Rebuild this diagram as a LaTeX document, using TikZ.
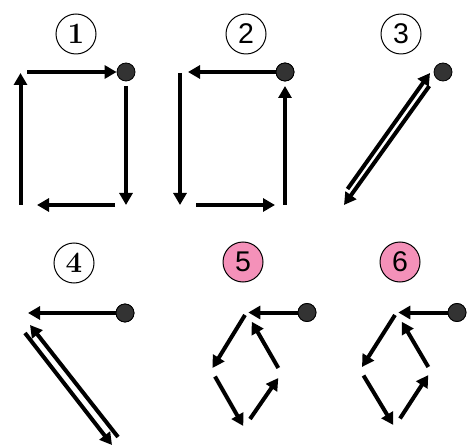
\documentclass[tikz,border=0pt]{standalone}
\usepackage{fontspec}
\newfontfamily\labsans{Liberation Sans}
\usetikzlibrary{arrows.meta}
\definecolor{dotgray}{RGB}{51,51,51}
\definecolor{pinkfill}{RGB}{244,145,185}
\begin{document}
\begin{tikzpicture}[x=1pt,y=-1pt,
  arr/.style={line width=4pt,-{Triangle[length=12pt,width=13pt]}},
  blob/.style={circle,draw=black,line width=0.8pt,fill=dotgray,minimum size=18pt,inner sep=0pt},
  lab/.style={circle,draw=black,line width=1pt,minimum size=40pt,inner sep=0pt},
  serlab/.style={lab,font=\bfseries\fontsize{29.5}{29.5}\selectfont},
  sanlab/.style={lab,font=\labsans\fontsize{28.5}{28.5}\selectfont},
  pinklab/.style={sanlab,fill=pinkfill}]
\useasboundingbox (0,0) rectangle (473,446);

% labels
\node[serlab] (l1) at (76,34) {1};
\node[sanlab] (l2) at (246,34) {2};
\node[sanlab] (l3) at (401,34) {3};
\node[serlab] (l4) at (74,263) {4};
\node[pinklab] (l5) at (243,262) {5};
\node[pinklab] (l6) at (400,262) {6};

% panel 1
\node[blob] (d1) at (126,72) {};
\coordinate (p1a) at (27,72);
\coordinate (p1b) at (126,86);
\coordinate (p1c) at (126,205);
\coordinate (p1d) at (115,205);
\coordinate (p1e) at (37,205);
\coordinate (p1f) at (20.5,205);
\coordinate (p1g) at (20.5,73);
\draw[arr] (p1a) -- (d1.west);
\draw[arr] (p1b) -- (p1c);
\draw[arr] (p1d) -- (p1e);
\draw[arr] (p1f) -- (p1g);

% panel 2
\node[blob] (d2) at (285,72) {};
\coordinate (p2a) at (188,72);
\coordinate (p2b) at (180,73);
\coordinate (p2c) at (180,205);
\coordinate (p2d) at (196,205);
\coordinate (p2e) at (275,205);
\coordinate (p2f) at (285,205);
\coordinate (p2g) at (285,86);
\draw[arr] (d2.center) -- (p2a);
\draw[arr] (p2b) -- (p2c);
\draw[arr] (p2d) -- (p2e);
\draw[arr] (p2f) -- (p2g);
\node[blob] at (d2) {};

% panel 3
\node[blob] (d3) at (443,72) {};
\coordinate (p3a) at (347.5,189);
\coordinate (p3b) at (430,73);
\coordinate (p3c) at (429.3,86);
\coordinate (p3d) at (344,205);
\draw[arr] (p3a) -- (p3b);
\draw[arr] (p3c) -- (p3d);

% panel 4
\node[blob] (d4) at (125,313) {};
\coordinate (p4a) at (28,313);
\coordinate (p4b) at (118,437);
\coordinate (p4c) at (30,325);
\coordinate (p4d) at (25,333);
\coordinate (p4e) at (112,445);
\draw[arr] (d4.center) -- (p4a);
\draw[arr] (p4b) -- (p4c);
\draw[arr] (p4d) -- (p4e);
\node[blob] at (d4) {};

% panel 5
\node[blob] (d5) at (307,312.5) {};
\coordinate (p5a) at (248.3,312.5);
\coordinate (p5b) at (245,315);
\coordinate (p5c) at (212.5,368);
\coordinate (p5d) at (215,376.5);
\coordinate (p5e) at (243.3,426);
\coordinate (p5f) at (250,419);
\coordinate (p5g) at (278.3,378);
\coordinate (p5h) at (278.3,368);
\coordinate (p5i) at (251.7,321.7);
\draw[arr] (d5.center) -- (p5a);
\draw[arr] (p5b) -- (p5c);
\draw[arr] (p5d) -- (p5e);
\draw[arr] (p5f) -- (p5g);
\draw[arr] (p5h) -- (p5i);
\node[blob] at (d5) {};

% panel 6
\node[blob] (d6) at (457,312.5) {};
\coordinate (p6a) at (398.3,312.5);
\coordinate (p6b) at (395,315);
\coordinate (p6c) at (362,367);
\coordinate (p6d) at (363.5,375.5);
\coordinate (p6e) at (393.3,425);
\coordinate (p6f) at (400,418.5);
\coordinate (p6g) at (428.3,375);
\coordinate (p6h) at (428.3,367);
\coordinate (p6i) at (401.7,321.7);
\draw[arr] (d6.center) -- (p6a);
\draw[arr] (p6b) -- (p6c);
\draw[arr] (p6d) -- (p6e);
\draw[arr] (p6f) -- (p6g);
\draw[arr] (p6h) -- (p6i);
\node[blob] at (d6) {};
\end{tikzpicture}
\end{document}
